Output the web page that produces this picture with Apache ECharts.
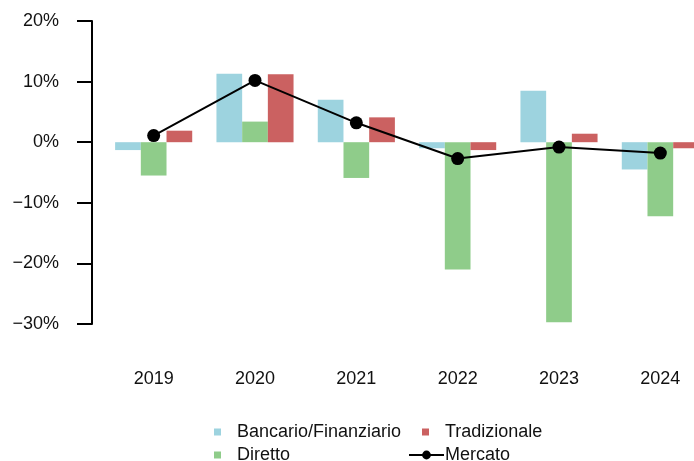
<!DOCTYPE html>
<html style="height: 100%">
<head>
<meta charset="utf-8">
</head>
<body style="height: 100%; margin: 0">
<div id="container" style="width: 694px; height: 461px"></div>
<script type="text/javascript" src="https://cdn.jsdelivr.net/npm/echarts@6/dist/echarts.min.js"></script>
<script type="text/javascript">
var years = ['2019', '2020', '2021', '2022', '2023', '2024'];
var bancario = [-1.3, 11.3, 7.0, -1.0, 8.5, -4.5];
var diretto = [-5.5, 3.4, -5.9, -21.0, -29.7, -12.2];
var tradizionale = [1.9, 11.2, 4.1, -1.3, 1.4, -1.0];
var mercato = [1.1, 10.2, 3.2, -2.7, -0.8, -1.8];

var FONT = 'Liberation Sans';
var TEXT = '#111';

var chart = echarts.init(document.getElementById('container'));

function legendAt(name, left, top, extra) {
    var l = {
        data: [name],
        left: left,
        top: top,
        padding: 0,
        itemWidth: 7,
        itemHeight: 7,
        icon: 'rect',
        selectedMode: false,
        textStyle: {fontFamily: FONT, fontSize: 18, color: TEXT, padding: [0, 0, 0, 11]}
    };
    for (var k in extra) l[k] = extra[k];
    return l;
}

var option = {
    animation: false,
    backgroundColor: '#fff',
    grid: {left: 103, top: 21, width: 608, height: 303, outerBoundsMode: 'none', containLabel: false},
    legend: [
        legendAt('Bancario/Finanziario', 214, 423),
        legendAt('Tradizionale', 422, 423),
        legendAt('Diretto', 214, 446),
        legendAt('Mercato', 408, 446, {
            icon: null,
            itemWidth: 35,
            itemHeight: 11,
            textStyle: {fontFamily: FONT, fontSize: 18, color: TEXT, padding: [0, 0, 0, -4]}
        })
    ],
    xAxis: {
        type: 'category',
        data: years,
        axisLine: {show: false},
        axisTick: {show: false},
        axisLabel: {fontFamily: FONT, fontSize: 18, color: TEXT, margin: 46}
    },
    yAxis: {
        type: 'value',
        min: -30,
        max: 20,
        interval: 10,
        offset: 11,
        splitLine: {show: false},
        axisLine: {show: true, lineStyle: {color: '#000', width: 2}},
        axisTick: {show: true, length: 15, lineStyle: {color: '#000', width: 2}},
        axisLabel: {
            fontFamily: FONT, fontSize: 18, color: TEXT, margin: 33,
            formatter: function (v) {
                return (v < 0 ? '\u2212' + Math.abs(v) : v) + '%';
            }
        }
    },
    series: [
        {name: 'Bancario/Finanziario', type: 'bar', data: bancario, barWidth: 25.7, barGap: '0%',
            itemStyle: {color: '#9dd3df'}},
        {name: 'Diretto', type: 'bar', data: diretto, barWidth: 25.7, barGap: '0%',
            itemStyle: {color: '#8fcc8a'}},
        {name: 'Tradizionale', type: 'bar', data: tradizionale, barWidth: 25.7, barGap: '0%',
            itemStyle: {color: '#cb6161'}},
        {name: 'Mercato', type: 'line', data: mercato, z: 5,
            symbol: 'circle', symbolSize: 13,
            itemStyle: {color: '#000'},
            lineStyle: {color: '#000', width: 2}}
    ]
};

chart.setOption(option);
</script>
</body>
</html>
